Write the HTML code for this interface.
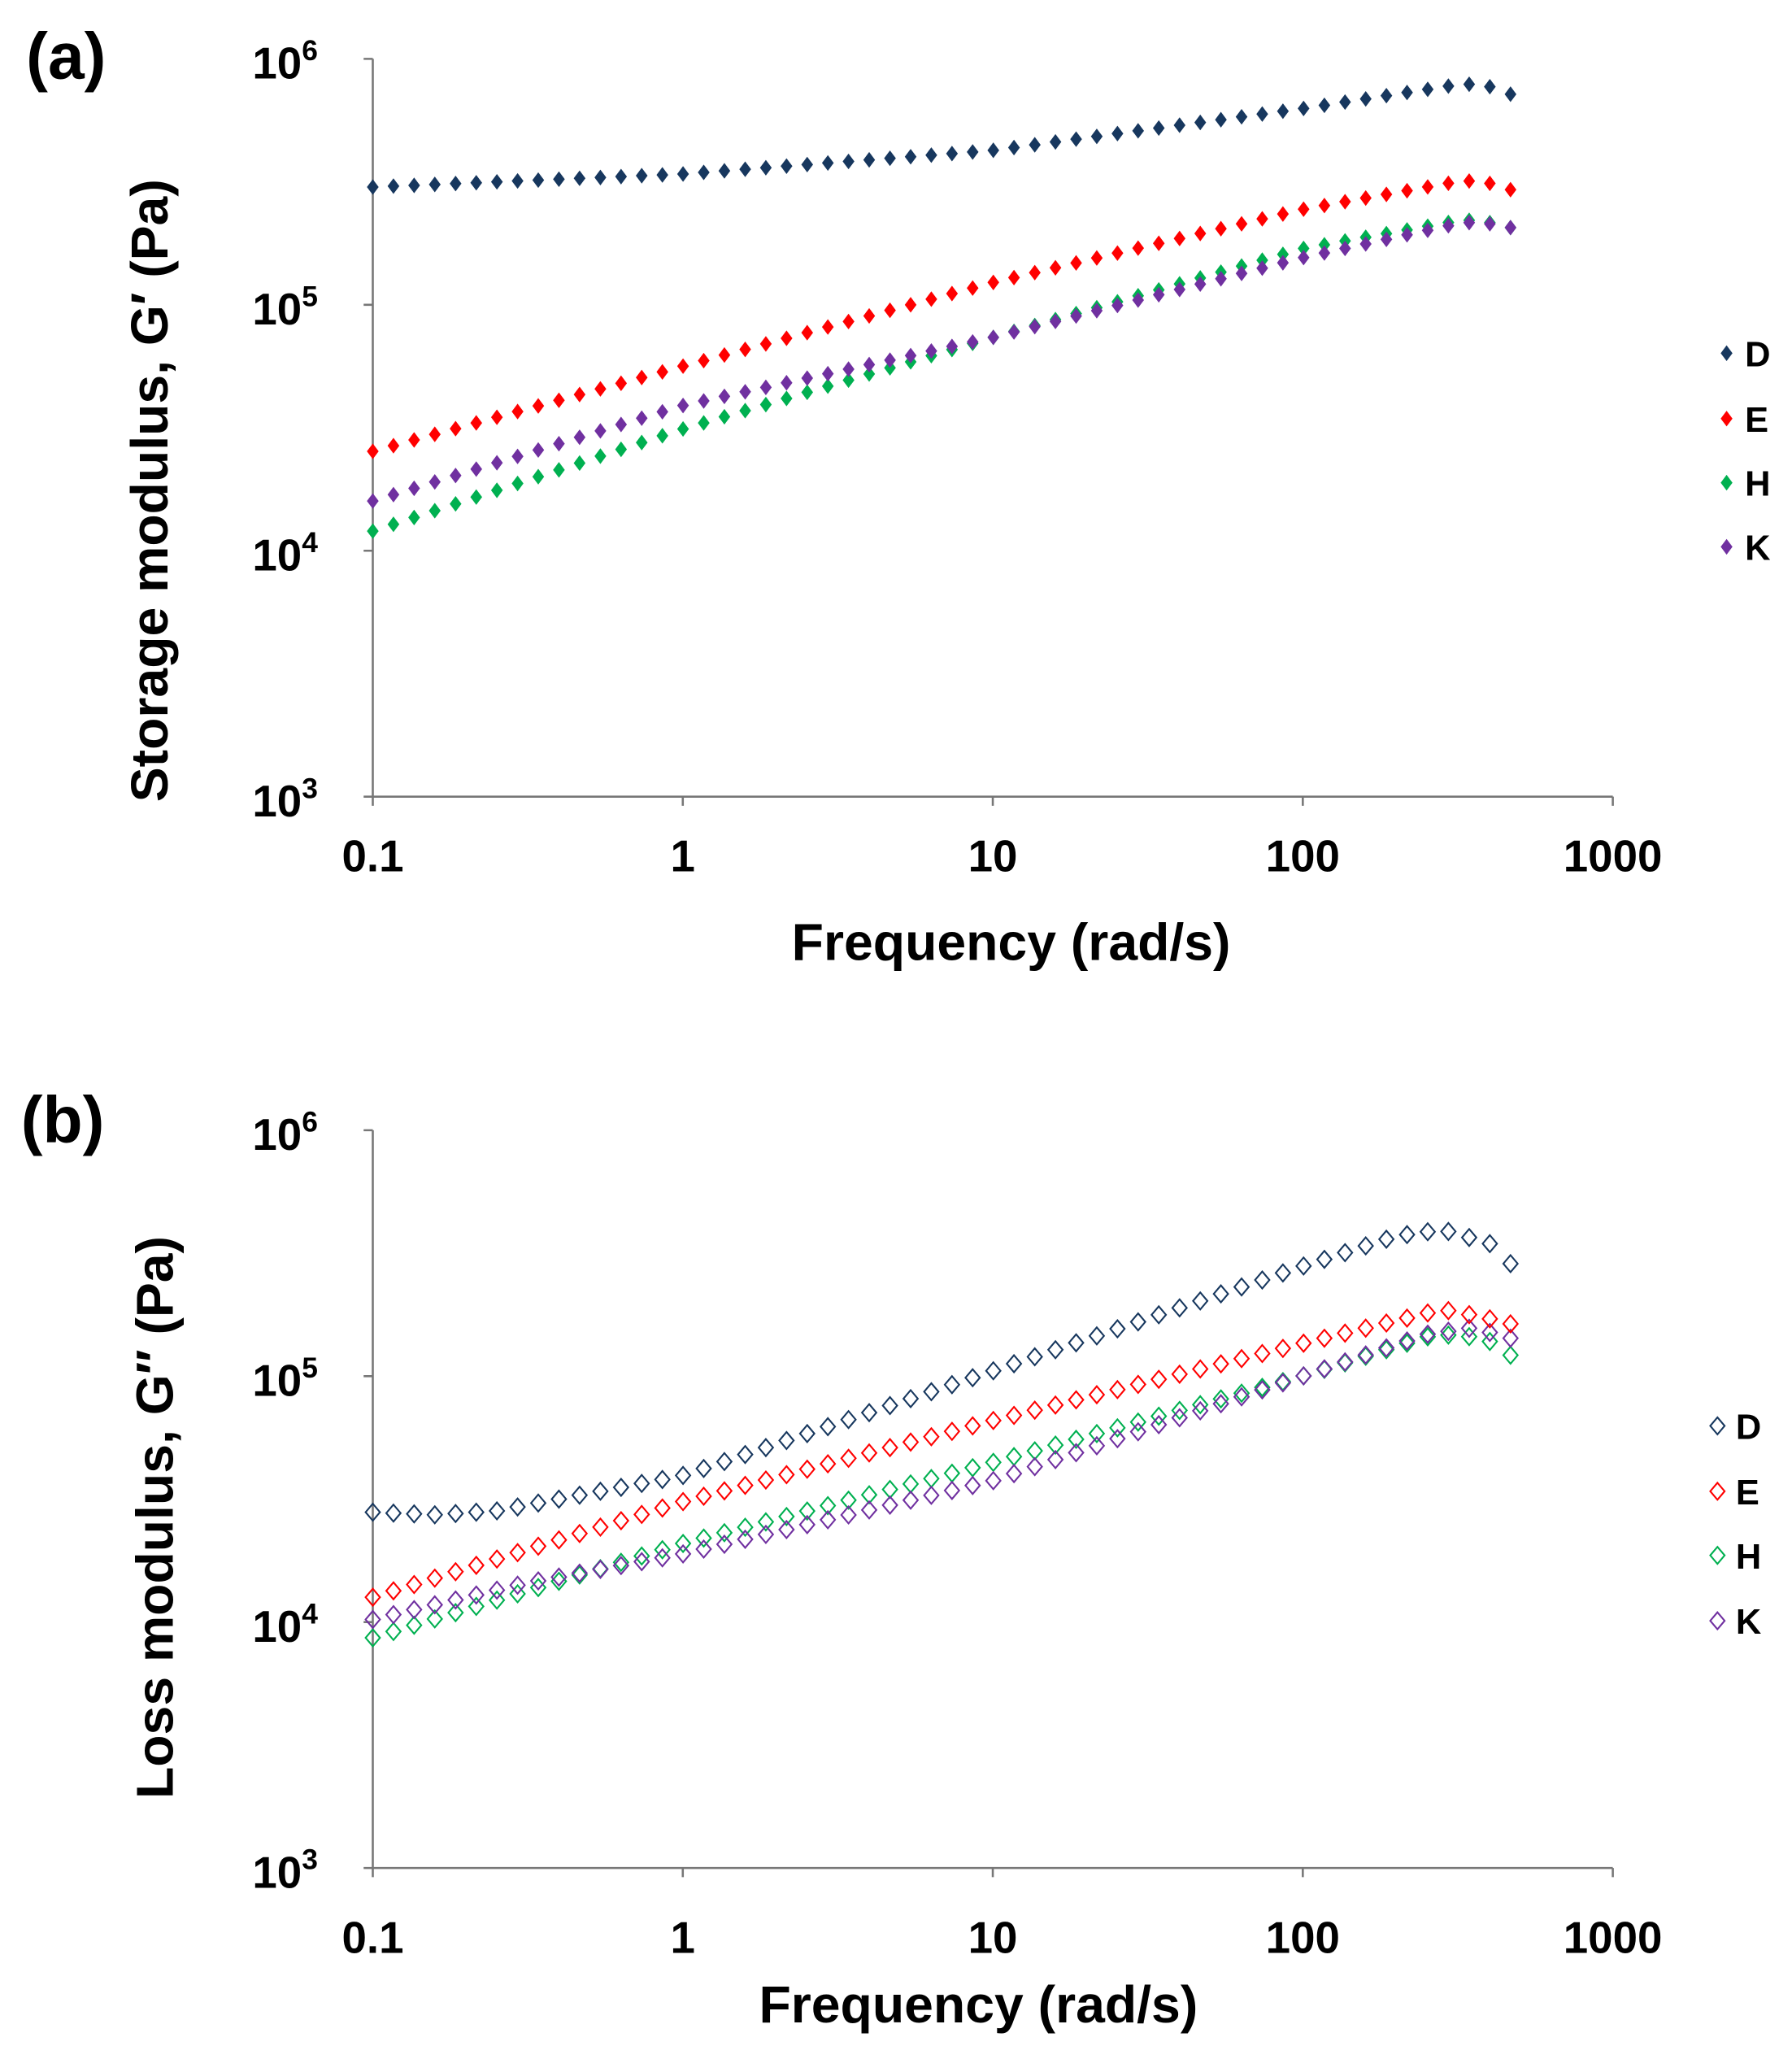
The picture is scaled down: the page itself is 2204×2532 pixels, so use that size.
<!DOCTYPE html>
<html><head><meta charset="utf-8"><style>
html,body{margin:0;padding:0;background:#fff;}
svg{display:block;}
text{font-family:"Liberation Sans","DejaVu Sans",sans-serif;font-weight:bold;fill:#000;}
</style></head><body>
<svg id="s" width="2204" height="2532" viewBox="0 0 1370 1574" preserveAspectRatio="none" xmlns="http://www.w3.org/2000/svg">
<rect width="1370" height="1574" fill="#fff"/>
<text x="20" y="60" font-size="50">(a)</text>
<g stroke="#777" stroke-width="1.6" fill="none">
<path d="M285 45 V609 H1233"/>
<path d="M278 45 H285 M278 233 H285 M278 421 H285 M278 609 H285"/>
<path d="M285 609 V616 M522 609 V616 M759 609 V616 M996 609 V616 M1233 609 V616"/>
</g>
<g font-size="34" text-anchor="end">
<text x="243" y="60">10<tspan font-size="22" dy="-14">6</tspan></text>
<text x="243" y="248">10<tspan font-size="22" dy="-14">5</tspan></text>
<text x="243" y="436">10<tspan font-size="22" dy="-14">4</tspan></text>
<text x="243" y="624">10<tspan font-size="22" dy="-14">3</tspan></text>
</g>
<g font-size="34" text-anchor="middle">
<text x="285" y="666">0.1</text><text x="522" y="666">1</text><text x="759" y="666">10</text><text x="996" y="666">100</text><text x="1233" y="666">1000</text>
</g>
<text x="773" y="734" font-size="40" text-anchor="middle">Frequency  (rad/s)</text>
<text transform="translate(128,375) rotate(-90)" font-size="40" text-anchor="middle">Storage modulus, G′ (Pa)</text>
<text x="16" y="873" font-size="50">(b)</text>
<g stroke="#777" stroke-width="1.6" fill="none">
<path d="M285 864 V1428 H1233"/>
<path d="M278 864 H285 M278 1052 H285 M278 1240 H285 M278 1428 H285"/>
<path d="M285 1428 V1435 M522 1428 V1435 M759 1428 V1435 M996 1428 V1435 M1233 1428 V1435"/>
</g>
<g font-size="34" text-anchor="end">
<text x="243" y="879">10<tspan font-size="22" dy="-14">6</tspan></text>
<text x="243" y="1067">10<tspan font-size="22" dy="-14">5</tspan></text>
<text x="243" y="1255">10<tspan font-size="22" dy="-14">4</tspan></text>
<text x="243" y="1443">10<tspan font-size="22" dy="-14">3</tspan></text>
</g>
<g font-size="34" text-anchor="middle">
<text x="285" y="1493">0.1</text><text x="522" y="1493">1</text><text x="759" y="1493">10</text><text x="996" y="1493">100</text><text x="1233" y="1493">1000</text>
</g>
<text x="748" y="1546" font-size="40" text-anchor="middle">Frequency  (rad/s)</text>
<text transform="translate(132,1160) rotate(-90)" font-size="40" text-anchor="middle">Loss modulus, G″ (Pa)</text>
<g id="pts"></g>
<g font-size="27">
<text x="1334" y="280">D</text><text x="1334" y="330">E</text><text x="1334" y="379">H</text><text x="1334" y="428">K</text>
<text x="1327" y="1100">D</text><text x="1327" y="1150">E</text><text x="1327" y="1199">H</text><text x="1327" y="1249">K</text>
</g>
</svg>
<script>
var C={D:"#17375e",E:"#ff0000",H:"#00b050",K:"#7030a0"};
function interp(a,x){for(var i=0;i<a.length-1;i++){if(x<=a[i+1][0]){var t=(x-a[i][0])/(a[i+1][0]-a[i][0]);return a[i][1]+t*(a[i+1][1]-a[i][1]);}}return a[a.length-1][1];}
var A={D:[[-1,143],[0,133],[1,115],[2,83],[2.3,72],[2.52,64],[2.6,66],[2.67,72]],
E:[[-1,345],[0,280],[1,216],[2,160],[2.52,138],[2.6,140],[2.67,145]],
H:[[-1,406],[0,328],[1,258],[2,190],[2.52,168],[2.6,170],[2.67,174]],
K:[[-1,383],[0,310],[1,258],[2,197],[2.52,170],[2.6,171],[2.67,174]]};
var B={D:[[-1,1156],[-0.8,1158],[-0.6,1155],[0,1128],[1,1048],[2,968],[2.3,945],[2.45,940],[2.52,945],[2.6,950],[2.67,966]],
E:[[-1,1221],[0,1148],[1,1086],[2,1027],[2.45,1001],[2.6,1008],[2.67,1012]],
H:[[-1,1252],[0,1180],[1,1118],[2,1052],[2.4,1022],[2.5,1020],[2.6,1025],[2.67,1036]],
K:[[-1,1238],[-0.5,1210],[0,1188],[1,1132],[2,1052],[2.4,1020],[2.55,1015],[2.67,1023]]};
var h="",N=56;
function r(v){return Math.round(v*10)/10;}
function fd(x,y,c){return '<path d="M'+r(x)+' '+r(y-6)+'L'+r(x+4.5)+' '+r(y)+'L'+r(x)+' '+r(y+6)+'L'+r(x-4.5)+' '+r(y)+'Z" fill="'+c+'"/>';}
function hd(x,y,c){return '<path d="M'+r(x)+' '+r(y-6.5)+'L'+r(x+5.5)+' '+r(y)+'L'+r(x)+' '+r(y+6.5)+'L'+r(x-5.5)+' '+r(y)+'Z" fill="none" stroke="'+c+'" stroke-width="1.3"/>';}
["H","K","E","D"].forEach(function(k){for(var i=0;i<N;i++){var L=-1+3.67*i/(N-1),x=285+(L+1)*237;h+=fd(x,interp(A[k],L),C[k]);h+=hd(x,interp(B[k],L),C[k]);}});
[["D",270],["E",320],["H",369],["K",418]].forEach(function(p){h+=fd(1320,p[1],C[p[0]]);});
[["D",1090],["E",1140],["H",1189],["K",1239]].forEach(function(p){h+=hd(1313,p[1],C[p[0]]);});
document.getElementById("pts").innerHTML=h;
</script>
</body></html>
